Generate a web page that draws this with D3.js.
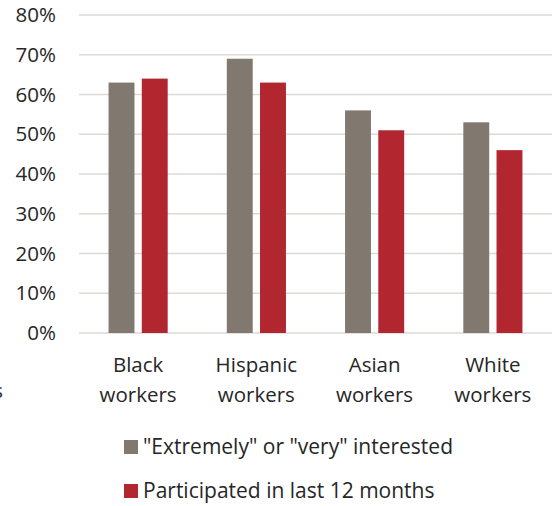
<!DOCTYPE html>
<html>
<head>
<meta charset="utf-8">
<script src="https://cdn.jsdelivr.net/npm/d3@7"></script>
<style>
  body { margin: 0; background: #fff; overflow: hidden; }
  svg { display: block; }
  text { font-family: "Open Sans", sans-serif; fill: #262626; }
</style>
</head>
<body>
<div class="chart"></div>
<script>
// Categories, one line per word
const groups = ["Black workers", "Hispanic workers", "Asian workers", "White workers"];

// Series names and values (percent)
const seriesNames = ["\"Extremely\" or \"very\" interested", "Participated in last 12 months"];
const interested = [63, 69, 56, 53];
const participated = [64, 63, 51, 46];
const seriesColors = ["#817870", "#b1262f"];

// Y tick labels
const yTicks = [0, 10, 20, 30, 40, 50, 60, 70, 80];

// Chart settings
const width = 559;
const height = 506;
const margin = {top: 15, right: 7, bottom: 173, left: 79};
const innerWidth = width - margin.left - margin.right;
const innerHeight = height - margin.top - margin.bottom;
const fontSize = "20.5px";

const svg = d3.select(".chart")
  .append("svg")
    .attr("width", width)
    .attr("height", height);

const g = svg.append("g")
    .attr("transform", `translate(${margin.left}, ${margin.top})`);

// Scales
const x = d3.scaleBand()
  .domain(groups)
  .range([0, innerWidth])
  .paddingInner(0.5)
  .paddingOuter(0.25);

const xSub = d3.scaleBand()
  .domain([0, 1])
  .range([0, x.bandwidth()])
  .paddingInner(0.22);

const y = d3.scaleLinear()
  .domain([0, 80])
  .range([innerHeight, 0]);

// Gridlines
g.selectAll(".grid")
  .data(yTicks)
  .enter()
  .append("line")
    .attr("x1", 0)
    .attr("x2", innerWidth)
    .attr("y1", d => y(d))
    .attr("y2", d => y(d))
    .attr("stroke", "#dcd9d6")
    .attr("stroke-width", 1.5);

// Y labels
g.selectAll(".ylab")
  .data(yTicks)
  .enter()
  .append("text")
    .attr("x", -23)
    .attr("y", d => y(d))
    .attr("dy", "0.35em")
    .attr("text-anchor", "end")
    .style("font-size", fontSize)
    .text(d => d + "%");

// Bars
const data = groups.map((grp, i) => ({grp, values: [interested[i], participated[i]]}));

const grpG = g.selectAll(".grp")
  .data(data)
  .enter()
  .append("g")
    .attr("transform", d => `translate(${x(d.grp)}, 0)`);

grpG.selectAll("rect")
  .data(d => d.values)
  .enter()
  .append("rect")
    .attr("x", (d, i) => xSub(i))
    .attr("y", d => y(d))
    .attr("width", xSub.bandwidth())
    .attr("height", d => innerHeight - y(d))
    .attr("fill", (d, i) => seriesColors[i]);

// Category labels on two lines
const catLab = g.selectAll(".cat")
  .data(groups)
  .enter()
  .append("text")
    .attr("text-anchor", "middle")
    .attr("transform", d => `translate(${x(d) + x.bandwidth() / 2}, ${innerHeight + 39})`)
    .style("font-size", fontSize);

catLab.selectAll("tspan")
  .data(d => d.split(" "))
  .enter()
  .append("tspan")
    .attr("x", 0)
    .attr("dy", (d, i) => i === 0 ? 0 : 30)
    .text(d => d);

// Cut-off fragment at the left edge
svg.append("text")
  .attr("x", 3)
  .attr("y", 398)
  .attr("text-anchor", "end")
  .style("font-size", fontSize)
  .text("s");

// Legend
const legend = svg.selectAll(".legend")
  .data(seriesNames)
  .enter()
  .append("g")
    .attr("transform", (d, i) => `translate(124, ${440 + i * 44})`);

legend.append("rect")
  .attr("width", 14)
  .attr("height", 14)
  .attr("fill", (d, i) => seriesColors[i]);

legend.append("text")
  .attr("x", 19)
  .attr("y", 14)
  .style("font-size", "21px")
  .text(d => d);
</script>
</body>
</html>
